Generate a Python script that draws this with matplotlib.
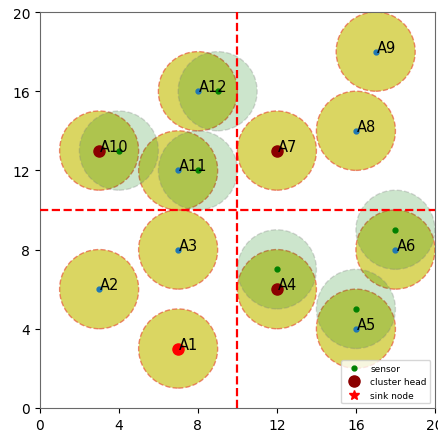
import matplotlib.pyplot as plt
from matplotlib.patches import Circle
from matplotlib.lines import Line2D

# node positions
NAMES = ["A1", "A2", "A3", "A4", "A5", "A6", "A7", "A8", "A9", "A10", "A11", "A12"]
NODE_X = [7, 3, 7, 12, 16, 18, 12, 16, 17, 3, 7, 8]
NODE_Y = [3, 6, 8, 6, 4, 8, 13, 14, 18, 13, 12, 16]
# which nodes are cluster heads
HEADS = ["A4", "A7", "A10"]
SINK = ["A1"]
# extra sensors (green)
SENSOR_X = [12, 16, 18, 4, 8, 9]
SENSOR_Y = [7, 5, 9, 13, 12, 16]
RADIUS = 2
SPLIT = 10

fig = plt.figure(figsize=(4.38, 4.35), dpi=100)
ax = fig.add_axes([0.091, 0.06, 0.902, 0.91])

for x, y in zip(NODE_X, NODE_Y):
    ax.add_patch(Circle((x, y), RADIUS, facecolor=(0.8, 0.78, 0.15, 0.72),
                        edgecolor=(0.9, 0.3, 0.2, 0.65), linestyle="--", linewidth=1.0, zorder=1))
for x, y in zip(SENSOR_X, SENSOR_Y):
    ax.add_patch(Circle((x, y), RADIUS, facecolor=(0.0, 0.5, 0.0, 0.2),
                        edgecolor=(0.5, 0.5, 0.5, 0.3), linestyle="--", linewidth=1.0, zorder=2))

ax.axvline(SPLIT, color="red", linestyle="--", linewidth=1.6, zorder=3)
ax.axhline(SPLIT, color="red", linestyle="--", linewidth=1.6, zorder=3)

for name, x, y in zip(NAMES, NODE_X, NODE_Y):
    if name in SINK:
        ax.plot(x, y, "o", color="red", markersize=8, zorder=4)
    elif name in HEADS:
        ax.plot(x, y, "o", color="darkred", markersize=8, zorder=4)
    else:
        ax.plot(x, y, "o", color="tab:blue", markersize=3.5, zorder=4)
    ax.text(x + 0.05, y, name, fontsize=10.5, zorder=5)

ax.plot(SENSOR_X, SENSOR_Y, "o", color="green", markersize=3.5, zorder=4)

handles = [
    Line2D([], [], marker="o", color="green", linestyle="", markersize=3.5),
    Line2D([], [], marker="o", color="darkred", linestyle="", markersize=8),
    Line2D([], [], marker="*", color="red", linestyle="", markersize=7),
]
ax.legend(handles, ["sensor", "cluster head", "sink node"], loc="lower right", fontsize=6.5)

ax.set_xlim(0, 20)
ax.set_ylim(0, 20)
ax.set_xticks([0, 4, 8, 12, 16, 20])
ax.set_yticks([0, 4, 8, 12, 16, 20])
ax.tick_params(labelsize=10)
for s in ax.spines.values():
    s.set_color("dimgray")

fig.savefig("out.png", dpi=100)
